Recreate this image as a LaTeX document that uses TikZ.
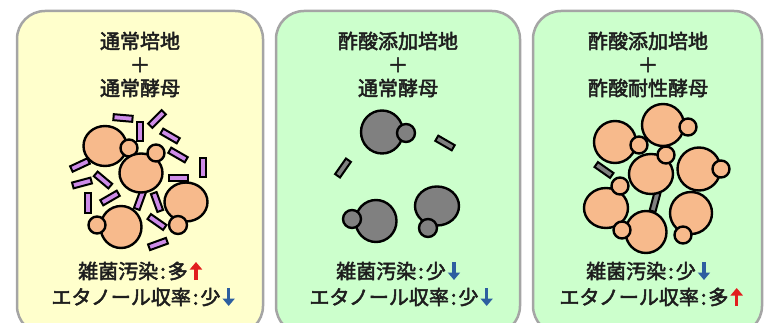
\documentclass[tikz,border=0pt]{standalone}
\usepackage{fontspec}
\usetikzlibrary{arrows.meta,calc}
\newfontfamily\jp[FakeBold=2.5]{Noto Sans CJK JP}
\definecolor{panelrim}{RGB}{165,165,165}
\definecolor{yellowbg}{RGB}{255,255,204}
\definecolor{greenbg}{RGB}{204,255,204}
\definecolor{peach}{RGB}{247,186,140}
\definecolor{cellgray}{RGB}{128,128,128}
\definecolor{rodpurple}{RGB}{206,140,232}
\definecolor{upred}{RGB}{225,30,30}
\definecolor{downblue}{RGB}{45,95,160}
\definecolor{inkdark}{RGB}{30,30,30}
\tikzset{
  panel/.style={draw=panelrim, line width=2.5pt, rounded corners=28pt},
  ttl/.style={font=\jp\fontsize{20}{23}\selectfont, text=inkdark, inner sep=0pt, anchor=center},
  bug/.style={draw=black, line width=2pt, rectangle, minimum width=19pt, minimum height=6pt, inner sep=0pt},
  cellline/.style={draw=black, line width=2.4pt},
  fatarrow/.style={line width=3.4pt, -{Triangle[width=12pt,length=7.5pt]}},
}
% one budding yeast cell: mother ellipse, then the bud on top
\newcommand\yeastcell[8]{%
  \draw[cellline, fill=#8] (#1,#2) ellipse [x radius=#3pt, y radius=#4pt];
  \draw[cellline, fill=#8] (#5,#6) circle [radius=#7pt];
}
\newcommand\colonsep{\hspace{2pt}:\hspace{2pt}}
\begin{document}
\begin{tikzpicture}[x=1pt, y=-1pt]
\useasboundingbox (0,0) rectangle (765,323);

% the three culture panels
\draw[panel, fill=yellowbg] (17,11) rectangle (263,334);
\draw[panel, fill=greenbg] (276,11) rectangle (520,334);
\draw[panel, fill=greenbg] (533,11) rectangle (762,334);

% ---- panel 1: normal medium + normal yeast ----
\node[ttl] (p1a) at (140,41) {通常培地};
\node[ttl] (p1b) at (140,65) {＋};
\node[ttl] (p1c) at (140,88) {通常酵母};

\foreach \x/\y/\a in {123/118/-5, 157/119/45, 140/132/90, 170/136/-30, 178/155/-30,
  203/168/90, 80/165/25, 103/180/-40, 82/183/15, 178/178/0, 88/203/90, 110/198/30,
  140/200/70, 157/202/110, 157/222/-35, 158/244/20}
  \node[bug, fill=rodpurple, rotate=\a] at (\x,\y) {};

\yeastcell{105}{146}{21.5}{20}{129}{148}{8.5}{peach}
\yeastcell{141}{173}{21.5}{19.5}{156}{153}{8.5}{peach}
\yeastcell{186}{202}{21.5}{19.5}{178}{225}{9}{peach}
\yeastcell{121}{227}{20.5}{21}{97}{225}{8.5}{peach}

\node[ttl] (p1d) at (133,271) {雑菌汚染\colonsep 多};
\node[ttl] (p1e) at (136,297) {エタノール収率\colonsep 少};
\draw[fatarrow, upred] ($(p1d.east)+(8,9)$) -- ++(0,-18);
\draw[fatarrow, downblue] ($(p1e.east)+(8,-9)$) -- ++(0,18);

% ---- panel 2: acetic acid medium + normal yeast ----
\node[ttl] (p2a) at (398,41) {酢酸添加培地};
\node[ttl] (p2b) at (398,65) {＋};
\node[ttl] (p2c) at (398,88) {通常酵母};

\node[bug, fill=cellgray, rotate=-30] at (445,143) {};
\node[bug, fill=cellgray, rotate=55] at (343,168) {};

\yeastcell{382}{132}{21}{21.5}{406}{133}{9}{cellgray}
\yeastcell{376}{221}{20.5}{21}{352}{219}{9}{cellgray}
\yeastcell{437}{206}{22}{19.5}{428}{228}{9}{cellgray}

\node[ttl] (p2d) at (391,271) {雑菌汚染\colonsep 少};
\node[ttl] (p2e) at (394,297) {エタノール収率\colonsep 少};
\draw[fatarrow, downblue] ($(p2d.east)+(8,-9)$) -- ++(0,18);
\draw[fatarrow, downblue] ($(p2e.east)+(8,-9)$) -- ++(0,18);

% ---- panel 3: acetic acid medium + tolerant yeast ----
\node[ttl] (p3a) at (648,41) {酢酸添加培地};
\node[ttl] (p3b) at (648,65) {＋};
\node[ttl] (p3c) at (648,88) {酢酸耐性酵母};

\node[bug, fill=cellgray, rotate=-35] at (604,170) {};
\node[bug, fill=cellgray, rotate=75] at (655,202) {};

\yeastcell{615}{142}{21}{21}{639}{145}{8.5}{peach}
\yeastcell{663}{125}{21}{21}{688}{127}{8.5}{peach}
\yeastcell{651}{174}{22}{20}{666}{155}{8.5}{peach}
\yeastcell{699}{169}{21.5}{21.5}{721}{169}{8.5}{peach}
\yeastcell{606}{208}{22}{20}{620}{186}{8.5}{peach}
\yeastcell{646}{232}{20.5}{21}{622}{230}{8.5}{peach}
\yeastcell{691}{213}{21}{21}{683}{235}{8.5}{peach}

\node[ttl] (p3d) at (641,271) {雑菌汚染\colonsep 少};
\node[ttl] (p3e) at (644,297) {エタノール収率\colonsep 多};
\draw[fatarrow, downblue] ($(p3d.east)+(8,-9)$) -- ++(0,18);
\draw[fatarrow, upred] ($(p3e.east)+(8,9)$) -- ++(0,-18);
\end{tikzpicture}
\end{document}
